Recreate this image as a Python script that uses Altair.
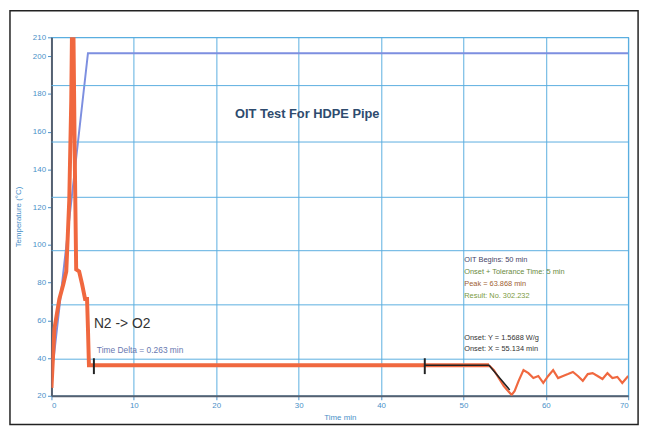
import altair as alt
import pandas as pd

# ---- data ----
temp_time = [0.24, 4.43, 70.0]
temp_value = [38.8, 201.6, 201.6]

# heat-flow trace: start of test and baseline
hf_time = [0.0, 0.36, 0.96, 1.44, 1.80, 2.16, 2.40, 2.52, 2.64, 2.82, 3.00, 3.36, 3.72,
           4.08, 4.32, 4.43, 4.55, 53.10]
hf_value = [24.2, 55.6, 71.3, 79.1, 85.9, 123.6, 176.0, 225.0, 225.0, 149.8, 87.0, 85.9, 79.1,
            71.3, 71.3, 55.6, 36.2, 36.2]
# heat-flow trace: oxidation part
ox_time = [53.10, 53.70, 54.30, 54.90, 55.50, 55.86, 56.22, 56.70,
           57.29, 57.89, 58.49, 59.09, 59.69, 60.29, 60.89, 61.49, 62.09, 62.69, 63.29,
           63.89, 64.49, 65.09, 65.68, 66.28, 66.88, 67.48, 68.08, 68.68, 69.28, 70.0]
ox_value = [36.2, 33.6, 29.4, 25.2, 22.1, 20.5, 22.6, 27.9,
            33.6, 32.0, 29.4, 30.5, 26.8, 30.5, 33.6, 29.4, 30.5, 31.5, 32.6,
            30.5, 27.9, 31.5, 32.0, 30.5, 28.9, 32.0, 29.4, 30.0, 26.8, 30.5]

tangent_time = [45.31, 53.10, 55.62]
tangent_value = [36.2, 36.2, 23.1]

marker_time = [5.15, 45.31]
marker_low = [31.5, 31.5]
marker_high = [39.9, 39.9]

grid_y = [184.4, 154.5, 125.2, 96.9, 68.2, 39.4]

y_ticks = [20, 40, 60, 80, 100, 120, 140, 160, 180, 200, 210]
x_ticks = [0, 10, 20, 30, 40, 50, 60, 70]

labels_text = ["OIT Test For HDPE Pipe", "N2 -> O2", "Time Delta = 0.263 min",
               "OIT Begins: 50 min", "Onset + Tolerance Time: 5 min", "Peak = 63.868 min",
               "Result: No. 302.232", "Onset: Y = 1.5688 W/g", "Onset: X = 55.134 min"]
labels_time = [31.05, 5.15, 5.51, 50.1, 50.1, 50.1, 50.1, 50.1, 50.1]
labels_value = [169.2, 58.2, 44.0, 92.2, 85.4, 79.1, 72.8, 50.4, 44.6]
labels_size = [13, 14, 8.5, 7.5, 7.5, 7.5, 7.5, 7.5, 7.5]
labels_color = ["#2e4b6e", "#333333", "#6878b0", "#444466", "#6a8a40", "#a06030",
                "#7a9a40", "#333333", "#333333"]
labels_align = ["center", "left", "left", "left", "left", "left", "left", "left", "left"]
labels_weight = ["bold", "normal", "normal", "normal", "normal", "normal", "normal", "normal", "normal"]

# ---- scales ----
xs = alt.Scale(domain=[0, 70], nice=False, zero=False)
ys = alt.Scale(domain=[20, 210], nice=False, zero=False)

temp_df = pd.DataFrame({"t": temp_time, "v": temp_value})
hf_df = pd.DataFrame({"t": hf_time, "v": hf_value, "o": range(len(hf_time))})
ox_df = pd.DataFrame({"t": ox_time, "v": ox_value, "o": range(len(ox_time))})
tan_df = pd.DataFrame({"t": tangent_time, "v": tangent_value, "o": range(len(tangent_time))})
mk_df = pd.DataFrame({"t": marker_time, "lo": marker_low, "hi": marker_high})
grid_df = pd.DataFrame({"v": grid_y})
lab_df = pd.DataFrame({"text": labels_text, "t": labels_time, "v": labels_value})

x_axis = alt.Axis(values=x_ticks, title="Time min", grid=True, format="d")
y_axis = alt.Axis(values=y_ticks, title="Temperature (°C)", grid=False, format="d")
base_x = alt.X("t:Q", scale=xs, axis=x_axis)
base_y = alt.Y("v:Q", scale=ys, axis=y_axis)

temp = alt.Chart(temp_df).mark_line(color="#7d8fe0", strokeWidth=2, clip=True).encode(
    x=base_x, y=base_y)

grid = alt.Chart(grid_df).mark_rule(color="#5aaee0", strokeWidth=1).encode(y=base_y)

hf = alt.Chart(hf_df).mark_line(color="#f0683f", strokeWidth=4, clip=True).encode(
    x=base_x, y=base_y, order="o:Q")

ox = alt.Chart(ox_df).mark_line(color="#f0683f", strokeWidth=2.2, clip=True).encode(
    x=base_x, y=base_y, order="o:Q")

tan = alt.Chart(tan_df).mark_line(color="#222222", strokeWidth=1.5).encode(
    x=base_x, y=base_y, order="o:Q")

mk = alt.Chart(mk_df).mark_rule(color="#222222", strokeWidth=2).encode(
    x=base_x, y=alt.Y("lo:Q", scale=ys, axis=y_axis), y2="hi:Q")

texts = []
for i in range(len(labels_text)):
    sub = lab_df.iloc[[i]]
    texts.append(alt.Chart(sub).mark_text(
        align=labels_align[i], baseline="middle", fontSize=labels_size[i],
        color=labels_color[i], fontWeight=labels_weight[i], font="Liberation Sans"
    ).encode(x=base_x, y=base_y, text="text:N"))

frame = alt.Chart(pd.DataFrame({"a": [0]})).mark_rect(
    fill=None, stroke="#222222", strokeWidth=1.5).encode(
    x=alt.value(-42), x2=alt.value(594), y=alt.value(-27), y2=alt.value(392))

chart = alt.layer(temp, grid, hf, ox, tan, mk, *texts, frame).properties(
    width=584, height=363,
    padding={"left": 44, "top": 27, "right": 17, "bottom": 35},
    autosize=alt.AutoSizeParams(type="none"),
    background="white",
).configure_view(stroke="#5aaee0", strokeWidth=1.2).configure_axis(
    labelColor="#4a90c8", labelFontSize=8, labelFont="Liberation Sans",
    titleColor="#4a90c8", titleFontSize=8, titleFont="Liberation Sans", titleFontWeight="normal",
    tickColor="#4a90c8", tickSize=4, domainColor="#556070", domainWidth=2,
    gridColor="#5aaee0", gridWidth=1, gridOpacity=1,
).configure_axisX(titlePadding=4).configure_axisY(titlePadding=10)

chart.save("out.html", embed_options={"renderer": "svg", "actions": False})
